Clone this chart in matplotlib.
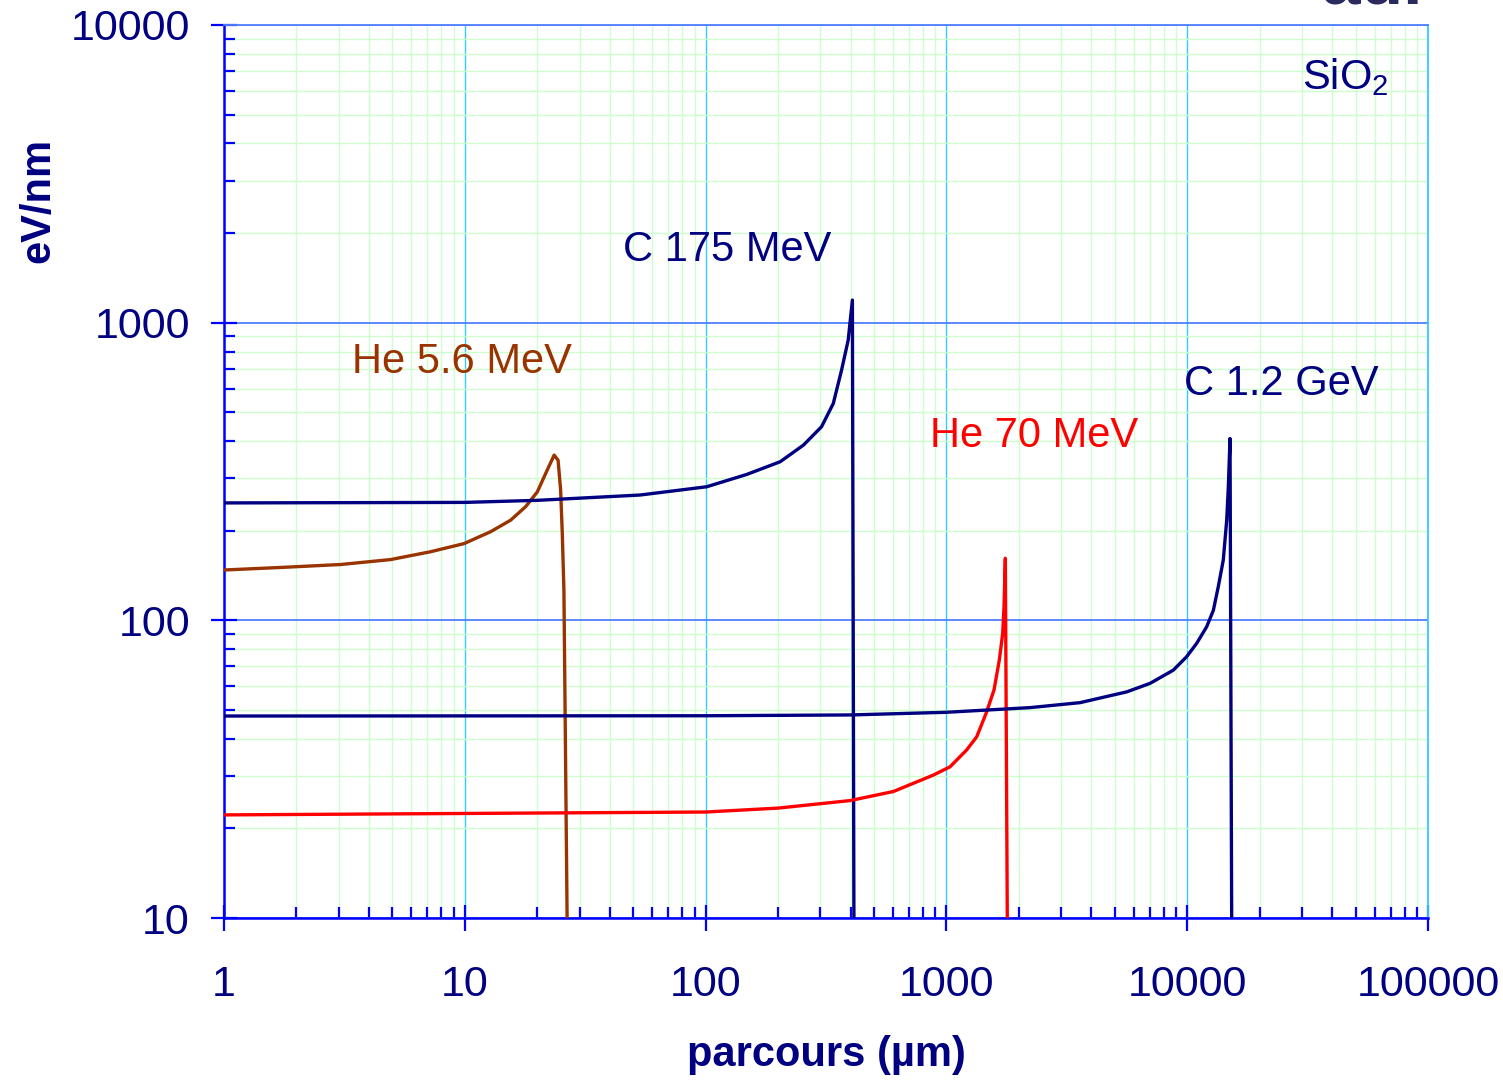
import matplotlib
matplotlib.use("Agg")
import matplotlib.pyplot as plt
from matplotlib.ticker import LogLocator, FuncFormatter, NullFormatter

plt.rcParams['font.family'] = ['Liberation Sans', 'DejaVu Sans']
plt.rcParams['mathtext.fontset'] = 'custom'
plt.rcParams['mathtext.rm'] = 'Liberation Sans'

# ---- donnees (parcours en um, perte en eV/nm) ----
c175_x = [1, 10, 20, 53.4, 101, 148, 204, 255, 303, 339, 367, 391, 407, 413]
c175_y = [248, 249, 253, 263.6, 281, 309, 341, 388, 447, 535, 693, 874, 1191, 10]

he56_x = [1, 1.77, 3.05, 4.92, 7.21, 9.92, 12.8, 15.5, 17.9, 20.0, 22.0,
          23.5, 24.4, 25.0, 25.4, 25.8, 26.6]
he56_y = [147.6, 150.7, 154, 160, 170, 181, 198.5, 217, 241, 270, 320,
          359, 345, 274, 196, 126, 10]

he70_x = [1, 100, 200, 398, 602, 882, 1035, 1214, 1336, 1470, 1577, 1659,
          1713, 1735, 1757, 1790]
he70_y = [22.2, 22.7, 23.4, 24.8, 26.6, 30.2, 32.2, 36.7, 40.6, 49.3, 58.4,
          73.6, 90.4, 111, 161.6, 10]

c12_x = [1, 100, 400, 1000, 2224, 3589, 5610, 7007, 8750, 9950, 10950,
         12050, 12840, 13460, 14120, 14590, 14820, 15060, 15300]
c12_y = [47.7, 47.8, 48.1, 49.1, 50.9, 52.9, 57.5, 61.4, 68.0, 75.5, 83.7,
         95.2, 108, 129.7, 159.4, 217, 281, 408, 10]

x_ticks = [1, 10, 100, 1000, 10000, 100000]
y_ticks = [10, 100, 1000, 10000]

NAVY = '#000080'
BRUN = '#993300'
ROUGE = '#ff0000'

fig = plt.figure(figsize=(15.03, 10.8), dpi=100)
ax = fig.add_axes([224 / 1503, 162 / 1080, 1204 / 1503, 893 / 1080])

ax.set_xscale('log')
ax.set_yscale('log')
ax.set_xlim(1, 100000)
ax.set_ylim(10, 10000)

# grille
ax.xaxis.set_major_locator(LogLocator(base=10, numticks=10))
ax.yaxis.set_major_locator(LogLocator(base=10, numticks=10))
ax.xaxis.set_minor_locator(LogLocator(base=10, subs=range(2, 10), numticks=20))
ax.yaxis.set_minor_locator(LogLocator(base=10, subs=range(2, 10), numticks=20))
ax.grid(True, which='minor', color='#ccffcc', linewidth=1.0, zorder=0)
ax.xaxis.grid(True, which='major', color='#33ccff', linewidth=1.0, zorder=0)
ax.yaxis.grid(True, which='major', color='#5080ff', linewidth=1.3, zorder=0)
ax.set_axisbelow(True)

# courbes
ax.plot(he56_x, he56_y, color=BRUN, linewidth=2.4, zorder=3)
ax.plot(c175_x, c175_y, color=NAVY, linewidth=2.4, zorder=3)
ax.plot(he70_x, he70_y, color=ROUGE, linewidth=2.4, zorder=3)
ax.plot(c12_x, c12_y, color=NAVY, linewidth=2.4, zorder=3)

# axes
for s in ['left', 'bottom']:
    ax.spines[s].set_color('#0000ff')
    ax.spines[s].set_linewidth(1.8)
ax.spines['top'].set_color('#5080ff')
ax.spines['top'].set_linewidth(1.3)
ax.spines['right'].set_color('#33ccff')
ax.spines['right'].set_linewidth(1.3)

ax.set_xticks(x_ticks)
ax.set_yticks(y_ticks)
fmt = FuncFormatter(lambda v, p: f"{v:.0f}")
ax.xaxis.set_major_formatter(fmt)
ax.yaxis.set_major_formatter(fmt)
ax.xaxis.set_minor_formatter(NullFormatter())
ax.yaxis.set_minor_formatter(NullFormatter())

ax.tick_params(which='major', direction='inout', length=19, width=1.6,
               color='#0000ff', labelsize=31, labelcolor=NAVY)
ax.tick_params(axis='y', which='major', pad=15)
ax.tick_params(axis='x', which='major', pad=24)
ax.tick_params(which='minor', direction='in', length=8, width=1.6,
               color='#0000ff')

# etiquettes des courbes
ax.text(3.4, 735, "He 5.6 MeV", color=BRUN, fontsize=30, va='center', ha='left')
ax.text(45.4, 1760, "C 175 MeV", color=NAVY, fontsize=30, va='center', ha='left')
ax.text(855, 415, "He 70 MeV", color=ROUGE, fontsize=30, va='center', ha='left')
ax.text(9700, 620, "C 1.2 GeV", color=NAVY, fontsize=30, va='center', ha='left')
ax.text(30000, 6700, r"SiO$_\mathregular{2}$", color=NAVY, fontsize=30,
        va='center', ha='left')

# titres des axes
fig.text(826 / 1503, 1 - 1055 / 1080, "parcours (µm)", color=NAVY, fontsize=30,
         fontweight='bold', ha='center', va='center')
fig.text(38 / 1503, 1 - 200 / 1080, "eV/nm", color=NAVY, fontsize=30,
         fontweight='bold', ha='center', va='center', rotation=90)

# bas du titre de la diapositive, coupe en haut
fig.text(1322 / 1503, 1 - 4 / 1080, "ad.", color='#2a2a5e', fontsize=50,
         fontweight='bold', ha='left', va='baseline')

fig.savefig("out.png", dpi=100)
